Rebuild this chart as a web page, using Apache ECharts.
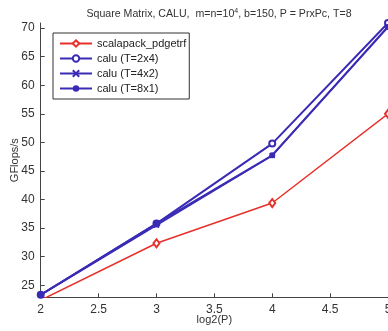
<!DOCTYPE html>
<html>
<head>
<meta charset="utf-8">
<script src="https://cdn.jsdelivr.net/npm/echarts@6/dist/echarts.min.js"></script>
<style>
  html, body { margin: 0; padding: 0; background: #fff; }
  #chart { width: 388px; height: 331px; }
</style>
</head>
<body>
<div id="chart"></div>
<script>
// log2(P)
const log2P = [2, 3, 4, 5];
const scalapack = [22.4, 32.35, 39.4, 55.0];
const calu2x4 = [23.35, 35.8, 49.8, 70.9];
const calu4x2 = [23.3, 35.5, 47.7, 70.3];
const calu8x1 = [23.35, 35.8, 47.75, 70.2];
const yTicks = [25, 30, 35, 40, 45, 50, 55, 60, 65, 70];

const RED = "#e8302a";
const BLUE = "#3a2bb5";
const FONT = "Liberation Sans";

const pairs = (ys) => log2P.map((x, i) => [x, ys[i]]);

const chart = echarts.init(document.getElementById("chart"));
const option = {
  animation: false,
  backgroundColor: "#fff",
  title: {
    text: "Square Matrix, CALU,  m=n=10{sup|4}, b=150, P = PrxPc, T=8",
    left: 214,
    textAlign: "center",
    top: 3,
    textStyle: {
      fontFamily: FONT,
      fontSize: 10.6,
      fontWeight: "normal",
      color: "#333",
      rich: { sup: { fontSize: 7, verticalAlign: "top", padding: [0, 0, 6, 0], color: "#333", fontFamily: FONT } },
    },
  },
  grid: { left: 40.7, right: 0, top: 23, bottom: 33.7, containLabel: false, outerBoundsMode: "none" },
  legend: {
    orient: "vertical",
    left: 53,
    top: 33,
    padding: [5, 3, 5, 6],
    itemWidth: 32,
    itemHeight: 8,
    itemGap: 4,
    borderColor: "#333",
    borderWidth: 1,
    backgroundColor: "#fff",
    textStyle: { fontFamily: FONT, fontSize: 11, color: "#222" },
    data: ["scalapack_pdgetrf", "calu (T=2x4)", "calu (T=4x2)", "calu (T=8x1)"],
  },
  xAxis: {
    type: "value",
    min: 2,
    max: 5,
    interval: 0.5,
    name: "log2(P)",
    nameLocation: "middle",
    nameGap: 17,
    nameMoveOverlap: false,
    nameTextStyle: { fontFamily: FONT, fontSize: 11, color: "#333" },
    axisLine: { lineStyle: { color: "#444", width: 1 } },
    axisTick: { inside: true, length: 4, lineStyle: { color: "#444" } },
    axisLabel: { fontFamily: FONT, fontSize: 12, color: "#333", margin: 6, showMaxLabel: true },
    splitLine: { show: false },
  },
  yAxis: {
    type: "value",
    min: 22.9,
    max: 70.9,
    name: "GFlops/s",
    nameLocation: "middle",
    nameGap: 20,
    nameMoveOverlap: false,
    nameTextStyle: { fontFamily: FONT, fontSize: 11, color: "#333" },
    axisLine: { show: true, lineStyle: { color: "#444", width: 1 } },
    axisTick: { inside: true, length: 4, customValues: yTicks, lineStyle: { color: "#444" } },
    axisLabel: { fontFamily: FONT, fontSize: 12, color: "#333", margin: 6, customValues: yTicks },
    splitLine: { show: false },
  },
  series: [
    {
      name: "scalapack_pdgetrf",
      type: "line",
      data: pairs(scalapack),
      symbol: "emptyDiamond",
      symbolSize: [6, 8],
      lineStyle: { color: RED, width: 1.5 },
      itemStyle: { color: RED, borderWidth: 1.2 },
      z: 2,
    },
    {
      name: "calu (T=2x4)",
      type: "line",
      data: pairs(calu2x4),
      symbol: "emptyCircle",
      symbolSize: 6,
      lineStyle: { color: BLUE, width: 2 },
      itemStyle: { color: BLUE, borderWidth: 1.3 },
      z: 3,
    },
    {
      name: "calu (T=4x2)",
      type: "line",
      data: pairs(calu4x2),
      symbol: "path://M0,0L10,10M10,0L0,10",
      symbolSize: 5,
      lineStyle: { color: BLUE, width: 1.5 },
      itemStyle: { color: BLUE, borderColor: BLUE, borderWidth: 1.3 },
      z: 4,
    },
    {
      name: "calu (T=8x1)",
      type: "line",
      data: pairs(calu8x1),
      symbol: "circle",
      symbolSize: 6,
      lineStyle: { color: BLUE, width: 2 },
      itemStyle: { color: BLUE },
      z: 5,
    },
  ],
};
chart.setOption(option);
</script>
</body>
</html>
